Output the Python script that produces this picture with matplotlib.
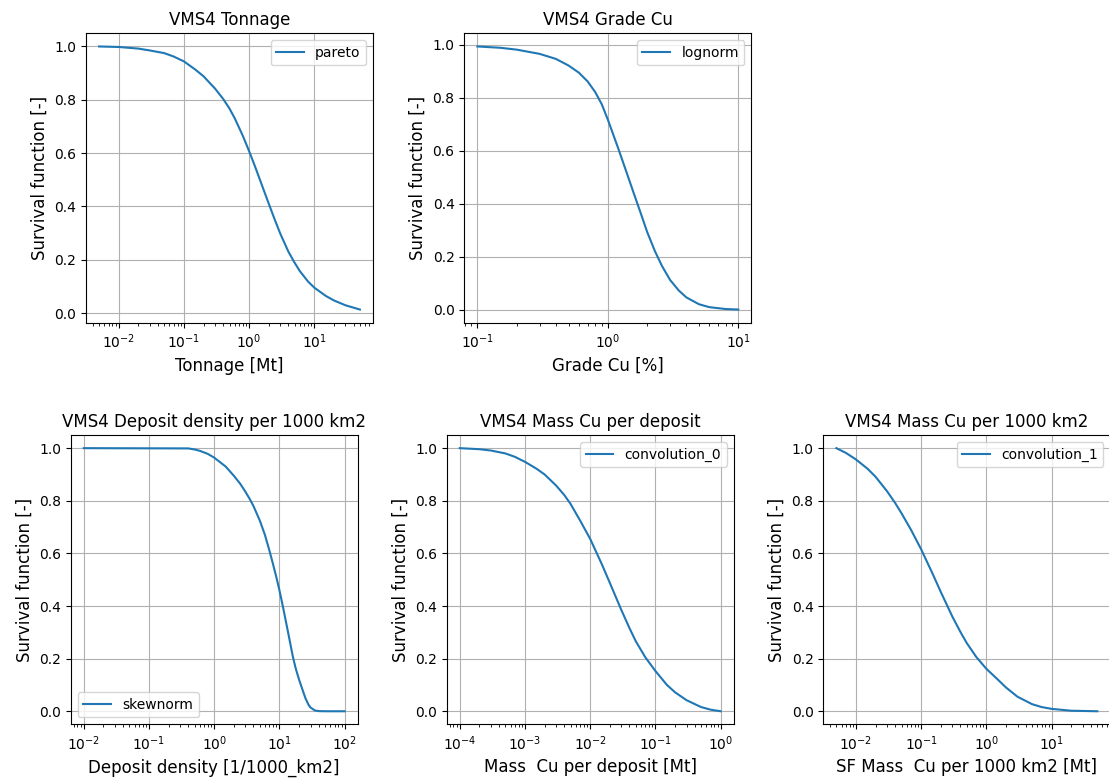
import matplotlib
matplotlib.use("Agg")
import matplotlib.pyplot as plt

# survival functions (x values, sf values)
tonnage_x = [0.005, 0.01, 0.02, 0.03, 0.05, 0.07, 0.1, 0.15, 0.2, 0.3, 0.4, 0.5, 0.6, 0.8, 1,
             1.2, 1.5, 2, 2.5, 3, 4, 5, 6, 8, 10, 15, 20, 30, 50]
tonnage_sf = [1.0, 0.998, 0.992, 0.985, 0.975, 0.962, 0.944, 0.913, 0.888, 0.842, 0.803, 0.767,
              0.731, 0.665, 0.607, 0.557, 0.493, 0.41, 0.347, 0.298, 0.23, 0.188, 0.157, 0.118,
              0.095, 0.064, 0.047, 0.029, 0.013]

grade_x = [0.1, 0.15, 0.2, 0.3, 0.4, 0.5, 0.6, 0.7, 0.8, 0.9, 1, 1.2, 1.4, 1.6, 1.8, 2, 2.3,
           2.6, 3, 3.5, 4, 5, 6, 8, 10]
grade_sf = [0.994, 0.989, 0.982, 0.966, 0.947, 0.922, 0.895, 0.862, 0.822, 0.775, 0.718, 0.61,
            0.515, 0.432, 0.36, 0.294, 0.22, 0.165, 0.112, 0.072, 0.046, 0.02, 0.009, 0.002, 0.0]

density_x = [0.01, 0.4, 0.5, 0.6, 0.8, 1, 1.5, 2, 2.5, 3, 3.5, 4, 5, 6, 7, 8, 9, 10, 11, 12, 13,
             14, 15, 16, 17, 18, 20, 22, 25, 28, 30, 35, 40, 50, 100]
density_sf = [1.0, 0.999, 0.995, 0.99, 0.978, 0.964, 0.93, 0.895, 0.865, 0.835, 0.807, 0.78,
              0.725, 0.67, 0.612, 0.558, 0.508, 0.46, 0.412, 0.366, 0.323, 0.283, 0.245, 0.21,
              0.182, 0.158, 0.12, 0.09, 0.05, 0.024, 0.014, 0.003, 0.0005, 0.0, 0.0]

mass_dep_x = [1e-4, 2e-4, 3e-4, 5e-4, 7e-4, 1e-3, 1.5e-3, 2e-3, 3e-3, 4e-3, 5e-3, 7e-3, 1e-2,
              1.5e-2, 2e-2, 3e-2, 4e-2, 5e-2, 7e-2, 0.1, 0.15, 0.2, 0.3, 0.5, 0.7, 1]
mass_dep_sf = [1.0, 0.996, 0.991, 0.980, 0.967, 0.948, 0.922, 0.90, 0.858, 0.822, 0.788, 0.725,
               0.655, 0.56, 0.488, 0.385, 0.316, 0.266, 0.205, 0.153, 0.100, 0.072, 0.042, 0.016,
               0.006, 0.0]

mass_area_x = [0.005, 0.007, 0.01, 0.015, 0.02, 0.03, 0.04, 0.05, 0.07, 0.1, 0.15, 0.2, 0.3,
               0.4, 0.5, 0.7, 1, 1.5, 2, 3, 5, 7, 10, 20, 50]
mass_area_sf = [1.0, 0.982, 0.957, 0.922, 0.891, 0.836, 0.791, 0.752, 0.689, 0.615, 0.522, 0.453,
                0.36, 0.301, 0.259, 0.206, 0.161, 0.12, 0.09, 0.055, 0.027, 0.016, 0.009, 0.002,
                0.0]

panels = [
    (tonnage_x, tonnage_sf, "pareto", "VMS4 Tonnage", "Tonnage [Mt]", "upper right"),
    (grade_x, grade_sf, "lognorm", "VMS4 Grade Cu", "Grade Cu [%]", "upper right"),
    (density_x, density_sf, "skewnorm", "VMS4 Deposit density per 1000 km2",
     "Deposit density [1/1000_km2]", "lower left"),
    (mass_dep_x, mass_dep_sf, "convolution_0", "VMS4 Mass Cu per deposit",
     "Mass  Cu per deposit [Mt]", "upper right"),
    (mass_area_x, mass_area_sf, "convolution_1", "VMS4 Mass Cu per 1000 km2",
     "SF Mass  Cu per 1000 km2 [Mt]", "upper right"),
]

# axes boxes in pixels (left, top) of a 1109x782 figure
W, H = 1109.0, 782.0
boxes = [(86, 33.3), (464.3, 33.3), (70.7, 435), (446.7, 435), (823.3, 435)]
aw, ah = 287, 289.4

fig = plt.figure(figsize=(11.09, 7.82), dpi=100)

for (x, y, name, title, xlabel, loc), (l, t) in zip(panels, boxes):
    ax = fig.add_axes([l / W, 1 - (t + ah) / H, aw / W, ah / H])
    ax.plot(x, y, label=name)
    ax.set_xscale("log")
    ax.set_title(title, fontsize=12)
    ax.set_xlabel(xlabel, fontsize=12)
    ax.set_ylabel("Survival function [-]", fontsize=12)
    ax.grid()
    ax.legend(loc=loc)

fig.savefig("out.png", dpi=100)
